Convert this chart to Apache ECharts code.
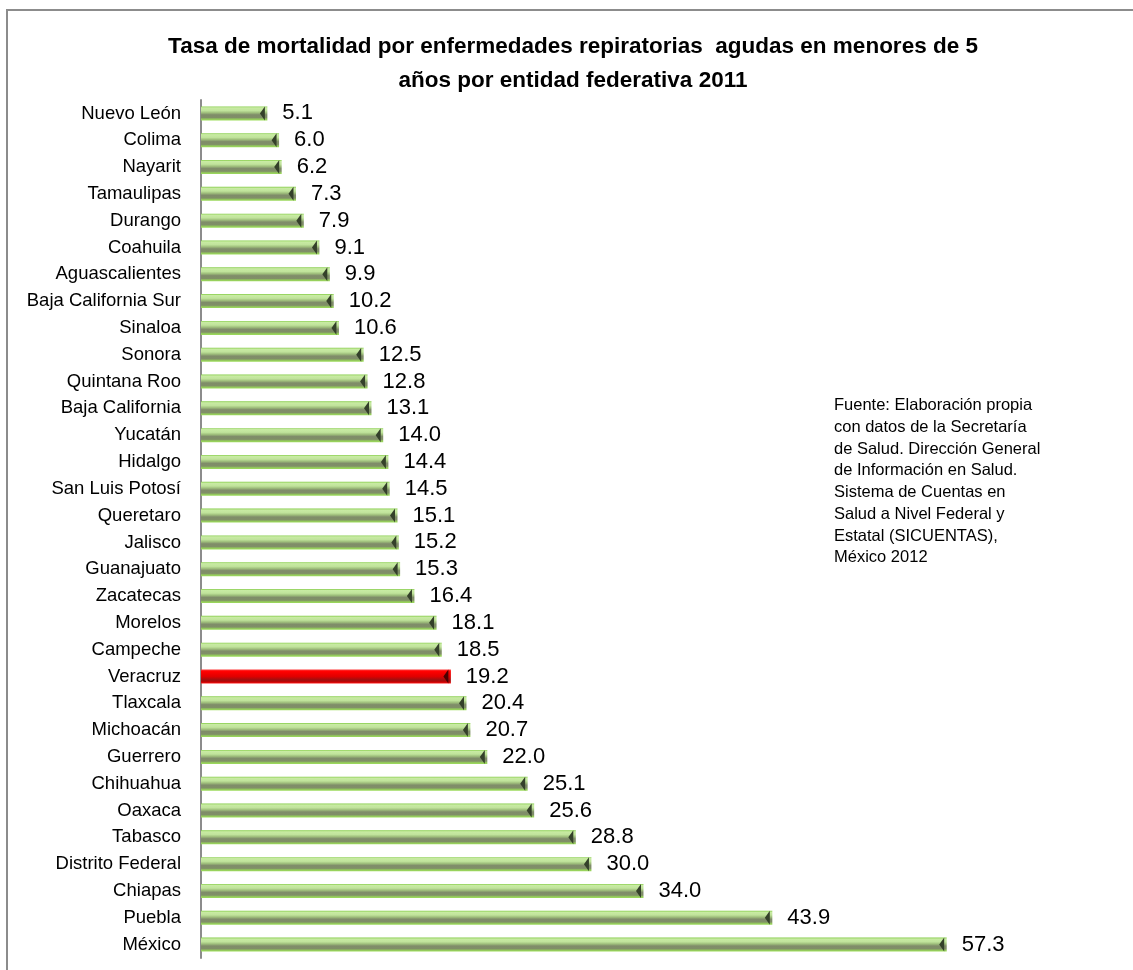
<!DOCTYPE html>
<html>
<head>
<meta charset="utf-8">
<script src="https://cdn.jsdelivr.net/npm/echarts@6/dist/echarts.min.js"></script>
<style>
html,body{margin:0;padding:0;background:#fff;}
#chart{width:1133px;height:970px;}
</style>
</head>
<body>
<div id="chart"></div>
<script>
const categories = ["Nuevo León","Colima","Nayarit","Tamaulipas","Durango","Coahuila","Aguascalientes","Baja California Sur","Sinaloa","Sonora","Quintana Roo","Baja California","Yucatán","Hidalgo","San Luis Potosí","Queretaro","Jalisco","Guanajuato","Zacatecas","Morelos","Campeche","Veracruz","Tlaxcala","Michoacán","Guerrero","Chihuahua","Oaxaca","Tabasco","Distrito Federal","Chiapas","Puebla","México"];
const values = [5.1,6.0,6.2,7.3,7.9,9.1,9.9,10.2,10.6,12.5,12.8,13.1,14.0,14.4,14.5,15.1,15.2,15.3,16.4,18.1,18.5,19.2,20.4,20.7,22.0,25.1,25.6,28.8,30.0,34.0,43.9,57.3];
const highlighted = "Veracruz";
const titleText = "Tasa de mortalidad por enfermedades repiratorias  agudas en menores de 5\naños por entidad federativa 2011";
const noteLines = ["Fuente: Elaboración propia","con datos de la Secretaría","de Salud. Dirección General","de Información en Salud.","Sistema de Cuentas en","Salud a Nivel Federal y","Estatal (SICUENTAS),","México 2012"];

const greenGrad = new echarts.graphic.LinearGradient(0,0,0,1,[
  {offset:0,color:'#86cc4a'},{offset:0.1,color:'#c8eba3'},{offset:0.3,color:'#c0e39b'},
  {offset:0.45,color:'#9fbf7c'},{offset:0.6,color:'#7f8c69'},{offset:0.8,color:'#808f67'},{offset:0.9,color:'#92c65c'},{offset:1,color:'#9edd5c'}]);
const redGrad = new echarts.graphic.LinearGradient(0,0,0,1,[
  {offset:0,color:'#ff3a3a'},{offset:0.15,color:'#ff0000'},{offset:0.5,color:'#e00000'},
  {offset:0.75,color:'#9c1010'},{offset:0.9,color:'#c80000'},{offset:1,color:'#ff2020'}]);

const barData = values.map((v,i)=>({value:v,itemStyle:{color: categories[i]===highlighted ? redGrad : greenGrad}}));
const capData = values.map((v,i)=>({value:v,itemStyle:{color: categories[i]===highlighted ? '#4a0000' : '#34402a'}}));

const chart = echarts.init(document.getElementById('chart'));
chart.setOption({
  backgroundColor:'#fff',
  animation:false,
  title:{
    text:titleText, left:568, top:25, textAlign:'center',
    textStyle:{fontFamily:'Liberation Sans',fontWeight:'bold',fontSize:22.5,color:'#000',lineHeight:34}
  },
  grid:{left:201,right:21,top:100,bottom:12,containLabel:false},
  xAxis:{type:'value',min:0,max:70,show:false,splitLine:{show:false}},
  yAxis:{
    type:'category',data:categories,inverse:true,
    axisLine:{show:true,lineStyle:{color:'#8c8c8c',width:2}},
    axisTick:{show:false},
    axisLabel:{fontFamily:'Liberation Sans',fontSize:18.5,color:'#000',margin:20}
  },
  series:[
    {
      type:'bar',data:barData,barWidth:14,
      label:{show:true,position:'right',distance:15,formatter:p=>p.value.toFixed(1),
        fontFamily:'Liberation Sans',fontSize:22,color:'#000'},
      z:2
    },
    {
      type:'pictorialBar',data:capData,symbol:'path://M0,50 L100,0 L100,100 Z',
      symbolSize:[5,14],symbolPosition:'end',symbolOffset:[-2.5,0],barGap:'-100%',
      z:3,silent:true
    }
  ],
  graphic:[
    {type:'rect',shape:{x:7,y:10,width:1200,height:1100},style:{fill:'none',stroke:'#8c8c8c',lineWidth:2},silent:true},
    {type:'text',left:834,top:395,style:{text:noteLines.join('\n'),fontFamily:'Liberation Sans',fontSize:16.5,lineHeight:21.7,fill:'#000'}}
  ]
});
</script>
</body>
</html>
